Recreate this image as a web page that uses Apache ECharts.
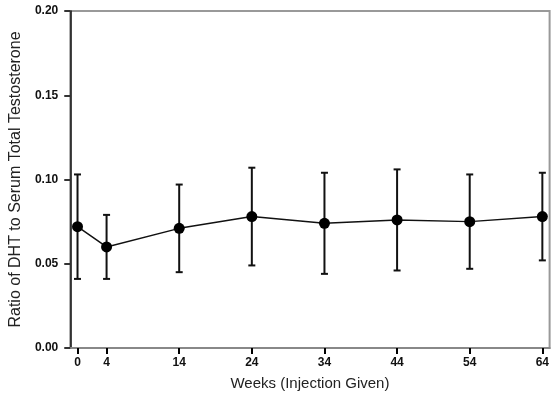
<!DOCTYPE html>
<html>
<head>
<meta charset="utf-8">
<script src="https://cdn.jsdelivr.net/npm/echarts@6/dist/echarts.min.js"></script>
<style>
  html, body { margin: 0; padding: 0; background: #fff; }
  #main { width: 552px; height: 405px; }
</style>
</head>
<body>
<div id="main"></div>
<script>
// weeks at which the injection was given
var weeks = [0, 4, 14, 24, 34, 44, 54, 64];
// mean ratio DHT / total testosterone
var ratio = [0.072, 0.060, 0.071, 0.078, 0.074, 0.076, 0.075, 0.078];
// error bar ends
var errHigh = [0.103, 0.079, 0.097, 0.107, 0.104, 0.106, 0.103, 0.104];
var errLow = [0.041, 0.041, 0.045, 0.049, 0.044, 0.046, 0.047, 0.052];
// y tick positions
var yTicks = [0, 0.05, 0.1, 0.15, 0.2];

var chart = echarts.init(document.getElementById('main'));

var lineData = weeks.map(function (w, i) { return [w, ratio[i]]; });
var errData = weeks.map(function (w, i) { return [w, errLow[i], errHigh[i]]; });

var font = 'Arial, Liberation Sans, sans-serif';

chart.setOption({
  animation: false,
  grid: {
    left: 69, right: 2, top: 11, bottom: 57,
    show: true, borderColor: '#999', borderWidth: 2
  },
  xAxis: {
    type: 'value',
    min: -1, max: 65,
    name: 'Weeks (Injection Given)',
    nameLocation: 'middle',
    nameGap: 28,
    nameTextStyle: { fontFamily: font, fontSize: 15, color: '#222' },
    splitLine: { show: false },
    axisLine: { show: true, onZero: false, lineStyle: { color: '#888', width: 2 } },
    axisTick: { show: true, inside: false, customValues: weeks, length: 6, lineStyle: { color: '#000', width: 2 } },
    axisLabel: {
      customValues: weeks, margin: 9,
      fontFamily: font, fontWeight: 'bold', fontSize: 12, color: '#111'
    }
  },
  yAxis: {
    type: 'value',
    min: 0, max: 0.2, interval: 0.05,
    name: 'Ratio of DHT to Serum Total Testosterone',
    nameLocation: 'middle',
    nameGap: 45,
    nameTextStyle: { fontFamily: font, fontSize: 16, color: '#222' },
    splitLine: { show: false },
    axisLine: { show: true, onZero: false, lineStyle: { color: '#111', width: 1.5 } },
    axisTick: { show: true, inside: false, customValues: yTicks, length: 6, lineStyle: { color: '#333', width: 2 } },
    axisLabel: {
      margin: 12,
      fontFamily: font, fontWeight: 'bold', fontSize: 12, color: '#111',
      formatter: function (v) { return v.toFixed(2); }
    }
  },
  series: [
    {
      type: 'custom',
      data: errData,
      z: 2,
      renderItem: function (params, api) {
        var x = api.value(0);
        var lo = api.coord([x, api.value(1)]);
        var hi = api.coord([x, api.value(2)]);
        var cap = 3.5;
        var st = { stroke: '#111', lineWidth: 2 };
        return {
          type: 'group',
          children: [
            { type: 'line', shape: { x1: lo[0], y1: lo[1], x2: hi[0], y2: hi[1] }, style: st },
            { type: 'line', shape: { x1: hi[0] - cap, y1: hi[1], x2: hi[0] + cap, y2: hi[1] }, style: st },
            { type: 'line', shape: { x1: lo[0] - cap, y1: lo[1], x2: lo[0] + cap, y2: lo[1] }, style: st }
          ]
        };
      }
    },
    {
      type: 'line',
      data: lineData,
      z: 3,
      symbol: 'circle',
      symbolSize: 11,
      lineStyle: { color: '#111', width: 1.5 },
      itemStyle: { color: '#000' }
    }
  ]
});
</script>
</body>
</html>
